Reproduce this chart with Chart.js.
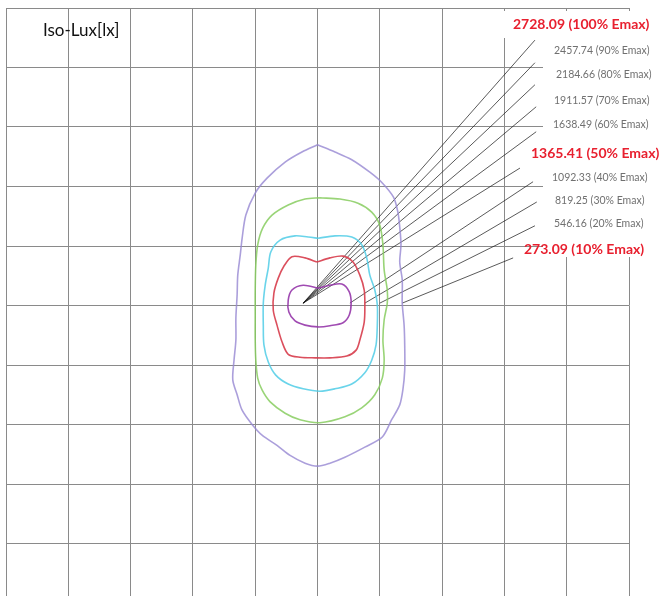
<!DOCTYPE html>
<html>
<head>
<meta charset="utf-8">
<script src="https://cdn.jsdelivr.net/npm/chart.js@4.4.1/dist/chart.umd.min.js"></script>
<style>
  html, body { margin: 0; padding: 0; background: #fff; overflow: hidden; }
  #wrap { width: 662px; height: 604px; }
</style>
</head>
<body>
<div id="wrap"><canvas id="iso" width="662" height="604"></canvas></div>
<script>
// iso-lux contours, grid units (1 cell = 1 m), centre of the luminaire at 0,0
const contourOuter = [
  [0.0, 2.70], [0.28, 2.58], [0.55, 2.45], [0.84, 2.24], [1.04, 2.06], [1.22, 1.82],
  [1.29, 1.57], [1.32, 1.32], [1.34, 1.02], [1.32, 0.73], [1.36, 0.43], [1.36, 0.04],
  [1.39, -0.33], [1.40, -0.67], [1.40, -1.09], [1.37, -1.42], [1.32, -1.67], [1.19, -1.92],
  [1.04, -2.21], [0.76, -2.38], [0.44, -2.55], [0.20, -2.65], [0.0, -2.70], [-0.20, -2.65],
  [-0.44, -2.52], [-0.65, -2.35], [-0.89, -2.18], [-1.05, -2.00], [-1.21, -1.76], [-1.29, -1.50],
  [-1.36, -1.25], [-1.34, -0.92], [-1.31, -0.58], [-1.31, -0.21], [-1.29, 0.18], [-1.28, 0.51],
  [-1.24, 0.85], [-1.21, 1.13], [-1.15, 1.52], [-1.00, 1.89], [-0.81, 2.14], [-0.52, 2.41],
  [-0.25, 2.58], [0.0, 2.70]
];
const contourGreen = [
  [0.04, 1.81], [0.36, 1.79], [0.65, 1.72], [0.87, 1.57], [1.00, 1.35], [1.05, 1.02],
  [1.07, 0.60], [1.12, 0.26], [1.12, 0.04], [1.07, -0.24], [1.05, -0.58], [1.07, -0.92],
  [1.04, -1.22], [0.92, -1.50], [0.71, -1.72], [0.44, -1.87], [0.04, -1.97], [-0.28, -1.92],
  [-0.52, -1.81], [-0.76, -1.62], [-0.89, -1.42], [-0.96, -1.22], [-0.99, -0.92], [-1.00, -0.58],
  [-1.00, -0.16], [-1.00, 0.26], [-0.99, 0.68], [-0.96, 1.02], [-0.88, 1.30], [-0.73, 1.52],
  [-0.47, 1.69], [-0.20, 1.79], [0.04, 1.81]
];
const contourCyan = [
  [0.01, 1.13], [0.28, 1.17], [0.55, 1.15], [0.71, 1.02], [0.79, 0.80], [0.84, 0.51],
  [0.92, 0.26], [0.96, 0.01], [0.96, -0.33], [0.94, -0.66], [0.87, -0.92], [0.76, -1.13],
  [0.55, -1.32], [0.28, -1.40], [0.04, -1.44], [-0.23, -1.40], [-0.47, -1.32], [-0.67, -1.17],
  [-0.79, -0.95], [-0.86, -0.66], [-0.87, -0.33], [-0.87, 0.04], [-0.84, 0.34], [-0.79, 0.63],
  [-0.75, 0.90], [-0.60, 1.10], [-0.36, 1.17], [-0.15, 1.15], [0.01, 1.13]
];
const contourRed = [
  [-0.01, 0.73], [0.20, 0.80], [0.41, 0.83], [0.57, 0.73], [0.68, 0.51], [0.75, 0.26],
  [0.76, 0.01], [0.75, -0.28], [0.68, -0.58], [0.62, -0.75], [0.47, -0.85], [0.20, -0.88],
  [-0.04, -0.88], [-0.28, -0.87], [-0.47, -0.82], [-0.57, -0.61], [-0.65, -0.33], [-0.71, -0.08],
  [-0.70, 0.21], [-0.63, 0.46], [-0.54, 0.66], [-0.41, 0.82], [-0.20, 0.80], [-0.01, 0.73]
];
const contourInner = [
  [0.01, 0.29], [0.20, 0.34], [0.39, 0.36], [0.51, 0.23], [0.54, 0.04], [0.51, -0.16],
  [0.41, -0.29], [0.20, -0.34], [0.01, -0.36], [-0.20, -0.33], [-0.36, -0.26], [-0.46, -0.11],
  [-0.47, 0.09], [-0.41, 0.26], [-0.23, 0.34], [0.01, 0.29]
];

// legend values (lx) and their share of Emax
const levelValues = [2728.09, 2457.74, 2184.66, 1911.57, 1638.49, 1365.41, 1092.33, 819.25, 546.16, 273.09];
const levelPercents = [100, 90, 80, 70, 60, 50, 40, 30, 20, 10];

// leader lines from the plot to each legend entry
const leaderStartX = [-0.23, -0.23, -0.23, -0.23, -0.23, -0.23, 0.52, 0.76, 1.00, 1.36];
const leaderStartY = [0.04, 0.04, 0.04, 0.04, 0.04, 0.04, 0.04, 0.04, 0.04, 0.04];
const leaderEndX = [3.49, 3.49, 3.49, 3.51, 3.51, 3.25, 3.46, 3.52, 3.49, 3.14];
const leaderEndY = [4.46, 4.08, 3.71, 3.34, 2.92, 2.31, 2.08, 1.74, 1.34, 0.80];

const titleText = 'Iso-Lux[lx]';

// label placement (pixels) - layout only
const labelPos = [
  [513, 24], [554, 51], [556, 75], [554, 101], [553, 125],
  [531, 153], [552, 178], [555, 201], [554, 224], [524, 249]
];

const toPts = (arr) => arr.map(([x, y]) => ({ x, y }));

const contourDatasets = [
  { pts: contourOuter, color: 'rgba(150,135,210,0.8)' },
  { pts: contourGreen, color: 'rgba(135,205,95,0.85)' },
  { pts: contourCyan, color: 'rgba(80,205,230,0.85)' },
  { pts: contourRed, color: 'rgba(215,60,75,0.9)' },
  { pts: contourInner, color: 'rgba(150,55,170,0.9)' },
].map((c) => ({
  data: toPts(c.pts),
  showLine: true,
  borderColor: c.color,
  borderWidth: 1.6,
  pointRadius: 0,
  tension: 0.3,
}));

const leaderDatasets = levelValues.map((v, i) => ({
  data: [
    { x: leaderStartX[i], y: leaderStartY[i] },
    { x: leaderEndX[i], y: leaderEndY[i] },
  ],
  showLine: true,
  borderColor: 'rgba(25,25,25,0.9)',
  borderWidth: 0.8,
  pointRadius: 0,
}));

const labelPlugin = {
  id: 'isoLabels',
  beforeDatasetsDraw(chart) {
    const ctx = chart.ctx;
    ctx.save();
    ctx.fillStyle = '#fff';
    ctx.fillRect(543, 11, 119, 246);
    ctx.fillRect(500, 11, 162, 27);
    ctx.restore();
  },
  afterDraw(chart) {
    const ctx = chart.ctx;
    ctx.save();
    ctx.textBaseline = 'middle';
    ctx.textAlign = 'left';
    ctx.fillStyle = '#111';
    ctx.font = '17px Lato';
    ctx.fillText(titleText, 43, 31);
    levelValues.forEach((v, i) => {
      const big = levelPercents[i] % 50 === 0 || levelPercents[i] === 10;
      ctx.fillStyle = big ? '#e8202f' : '#707070';
      ctx.font = big ? 'bold 14px Lato' : '10.5px Lato';
      ctx.fillText(`${v.toFixed(2)} (${levelPercents[i]}% Emax)`, labelPos[i][0], labelPos[i][1]);
    });
    ctx.restore();
  },
};

const axisOpts = {
  type: 'linear',
  min: -5,
  max: 5,
  ticks: { display: false, stepSize: 1 },
  grid: { color: '#8a8a8a', lineWidth: 1, drawTicks: false },
  border: { display: false },
};

new Chart(document.getElementById('iso'), {
  type: 'scatter',
  data: { datasets: [...contourDatasets, ...leaderDatasets] },
  options: {
    responsive: false,
    animation: false,
    layout: { padding: { left: 6, top: 8, right: 33, bottom: 1 } },
    plugins: { legend: { display: false }, tooltip: { enabled: false } },
    scales: { x: axisOpts, y: axisOpts },
  },
  plugins: [labelPlugin],
});
</script>
</body>
</html>
